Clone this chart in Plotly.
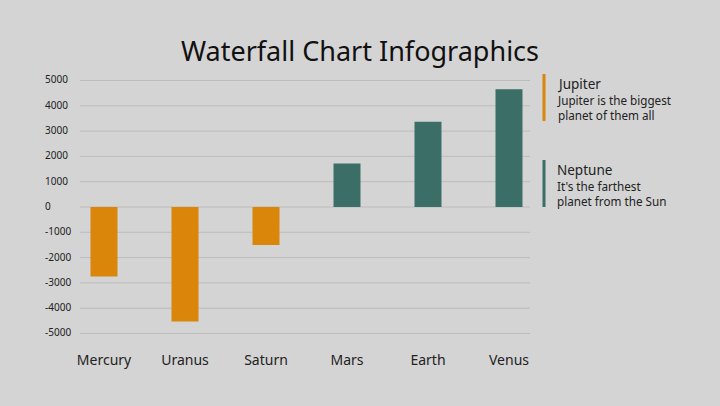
import plotly.graph_objects as go

categories = ["Mercury", "Uranus", "Saturn", "Mars", "Earth", "Venus"]
values = [-2750, -4530, -1500, 1720, 3370, 4650]
y_ticks = [5000, 4000, 3000, 2000, 1000, 0, -1000, -2000, -3000, -4000, -5000]
legend_names = ["Jupiter", "Neptune"]
legend_desc = ["Jupiter is the biggest<br>planet of them all", "It's the farthest<br>planet from the Sun"]

NEG = "#d9860b"
POS = "#3a6e66"
BG = "#d4d4d4"
GRID = "#bcbcbc"
FONT = "Noto Sans"

W, H = 720, 406
x0, x1 = 63.5, 549.5
ytop, ybot = 67.85, 346.15

fig = go.Figure()
fig.add_trace(go.Bar(
    x=categories, y=values,
    marker=dict(color=[NEG if v < 0 else POS for v in values], line=dict(width=0)),
    showlegend=False,
))

annotations = []
shapes = []
for t in y_ticks:
    annotations.append(dict(x=43 / W, xref="paper", y=t, yref="y", text=str(t),
                            xanchor="left", yanchor="middle", showarrow=False, yshift=1,
                            font=dict(family=FONT, size=10, color="#222222")))
    shapes.append(dict(type="line", xref="paper", yref="y", x0=80 / W, x1=530 / W,
                       y0=t, y1=t, layer="below", line=dict(color=GRID, width=1)))

# legend
colors = [NEG, POS]
tops = [74, 160]
for i, name in enumerate(legend_names):
    t = tops[i]
    shapes.append(dict(type="line", xref="paper", yref="paper",
                       x0=544 / W, x1=544 / W, y0=1 - t / H, y1=1 - (t + 47) / H,
                       line=dict(color=colors[i], width=3)))
    annotations.append(dict(x=555 / W, xref="paper", y=1 - (t - 1) / H, yref="paper",
                            text=name, xanchor="left", yanchor="top", showarrow=False,
                            font=dict(family=FONT, size=13.5, color="#222222")))
    annotations.append(dict(x=555 / W, xref="paper", y=1 - (t + 16) / H, yref="paper",
                            text=legend_desc[i], xanchor="left", yanchor="top", showarrow=False,
                            align="left",
                            font=dict(family=FONT, size=11.7, color="#222222")))

fig.update_layout(
    width=W, height=H,
    margin=dict(l=0, r=0, t=0, b=0),
    paper_bgcolor=BG, plot_bgcolor=BG,
    title=dict(text="Waterfall Chart Infographics", x=0.5, xanchor="center",
               y=1 - 52 / H, yanchor="middle",
               font=dict(family=FONT, size=27, color="#111111")),
    bargap=0.667,
    xaxis=dict(domain=[x0 / W, x1 / W], showgrid=False, zeroline=False, showline=False,
               ticks="", ticklabelstandoff=4,
               tickfont=dict(family=FONT, size=14, color="#222222")),
    yaxis=dict(domain=[1 - ybot / H, 1 - ytop / H], range=[-5500, 5500],
               tickvals=y_ticks, showticklabels=False, showgrid=False,
               zeroline=False, showline=False),
    annotations=annotations, shapes=shapes,
    font=dict(family=FONT),
)

fig.write_html("out.html")
